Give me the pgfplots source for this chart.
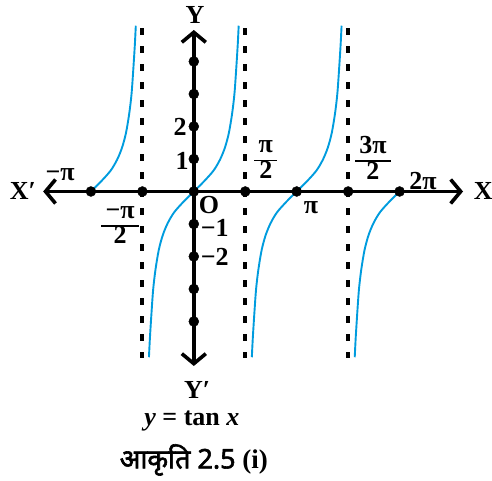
\documentclass[border=0pt]{standalone}
\usepackage{pgfplots}
\pgfplotsset{compat=1.18}
\usepackage{fontspec}
\setmainfont{Liberation Serif}
\newfontfamily\deva[Script=Devanagari, AutoFakeBold=2.2]{Noto Sans}
\usetikzlibrary{arrows.meta}
\definecolor{curve}{RGB}{0,156,222}
\newcommand\fr[2]{{\setlength\arrayrulewidth{1.8pt}\renewcommand\arraystretch{0.8}%
  \begin{tabular}{@{\,}c@{\,}}#1\\\hline #2\end{tabular}}}
\tikzset{lab/.style={font=\bfseries\fontsize{26}{28}\selectfont, inner sep=0pt}}
\begin{document}
\begin{tikzpicture}
\begin{axis}[hide axis, scale only axis, clip=false,
  x=32.75pt, y=32.5pt,
  xmin=-5.918, xmax=9.105, ymin=-8.908, ymax=5.892]
% asymptotes
\addplot[black, line width=4pt, dash pattern=on 7pt off 11pt, mark=none] coordinates {(-1.5708,5.03) (-1.5708,-5.12)};
\addplot[black, line width=4pt, dash pattern=on 7pt off 11pt, mark=none] coordinates {(1.5708,5.03) (1.5708,-5.12)};
\addplot[black, line width=4pt, dash pattern=on 7pt off 11pt, mark=none] coordinates {(4.7124,5.03) (4.7124,-5.12)};
% tan x branches
\addplot[curve, line width=1.9pt, mark=none, smooth] coordinates {
 (-3.1416,0) (-2.8416,0.3) (-2.5416,0.64) (-2.3416,0.98) (-2.1916,1.35) (-2.0716,1.8)
 (-1.9716,2.4) (-1.9016,3.0) (-1.8516,3.7) (-1.8016,4.5) (-1.7716,5.1)};
\addplot[curve, line width=1.9pt, mark=none, smooth] coordinates {
 (-1.37,-5.1) (-1.34,-4.5) (-1.29,-3.7) (-1.24,-3.0) (-1.17,-2.4) (-1.07,-1.8)
 (-0.95,-1.35) (-0.8,-0.98) (-0.6,-0.64) (-0.3,-0.3) (0,0) (0.3,0.3) (0.6,0.64)
 (0.8,0.98) (0.95,1.35) (1.07,1.8) (1.17,2.4) (1.24,3.0) (1.29,3.7) (1.34,4.5) (1.37,5.1)};
\addplot[curve, line width=1.9pt, mark=none, smooth] coordinates {
 (1.7716,-5.1) (1.8016,-4.5) (1.8516,-3.7) (1.9016,-3.0) (1.9716,-2.4) (2.0716,-1.8)
 (2.1916,-1.35) (2.3416,-0.98) (2.5416,-0.64) (2.8416,-0.3) (3.1416,0) (3.4416,0.3)
 (3.7416,0.64) (3.9416,0.98) (4.0916,1.35) (4.2116,1.8) (4.3116,2.4) (4.3816,3.0)
 (4.4316,3.7) (4.4816,4.5) (4.5116,5.1)};
\addplot[curve, line width=1.9pt, mark=none, smooth] coordinates {
 (4.9132,-5.1) (4.9432,-4.5) (4.9932,-3.7) (5.0432,-3.0) (5.1132,-2.4) (5.2132,-1.8)
 (5.3332,-1.35) (5.4832,-0.98) (5.6832,-0.64) (5.9832,-0.3) (6.2832,0)};
% axes
\addplot[black, line width=3.6pt, mark=none,
  arrows={Straight Barb[length=10pt,width=24pt]-Straight Barb[length=10pt,width=24pt]}]
  coordinates {(-4.60,0) (8.22,0)};
\addplot[black, line width=3.6pt, mark=none,
  arrows={Straight Barb[length=10pt,width=24pt]-Straight Barb[length=10pt,width=24pt]}]
  coordinates {(0,-5.37) (0,4.97)};
% dots
\addplot[only marks, mark=*, mark size=5pt, black] coordinates {
 (-3.1416,0) (-1.5708,0) (0,0) (1.5708,0) (3.1416,0) (4.7124,0) (6.2832,0)
 (0,1) (0,2) (0,3) (0,4) (0,-1) (0,-2) (0,-3) (0,-4)};
% labels
\node[lab] at (axis cs:0.04,5.42) {Y};
\node[lab] at (axis cs:0.10,-6.11) {Y′};
\node[lab] at (axis cs:-5.22,0) {X′};
\node[lab] at (axis cs:8.84,0) {X};
\node[lab] at (axis cs:-4.08,0.51) {−π};
\node[lab] at (axis cs:-2.25,-1.08) {\fr{−π}{2}};
\node[lab] at (axis cs:2.20,0.93) {\fr{π}{2}};
\node[lab] at (axis cs:3.58,-0.50) {π};
\node[lab] at (axis cs:5.47,0.93) {\fr{3π}{2}};
\node[lab] at (axis cs:7.00,0.32) {2π};
\node[lab] at (axis cs:0.46,-0.42) {O};
\node[lab] at (axis cs:-0.36,0.94) {1};
\node[lab] at (axis cs:-0.42,1.98) {2};
\node[lab] at (axis cs:0.64,-1.13) {−1};
\node[lab] at (axis cs:0.64,-2.0) {−2};
\node[lab] at (axis cs:-0.06,-7.06) {\textit{y} = tan \textit{x}};
\node[font=\bfseries\fontsize{27}{30}\selectfont, inner sep=0pt] at (axis cs:0,-8.26)
  {{\deva आकृति 2.5} (i)};
\coordinate (bl) at (axis cs:-5.918,-8.908);
\coordinate (tr) at (axis cs:9.105,5.892);
\end{axis}
\pgfresetboundingbox
\useasboundingbox (bl) rectangle (tr);
\end{tikzpicture}
\end{document}
